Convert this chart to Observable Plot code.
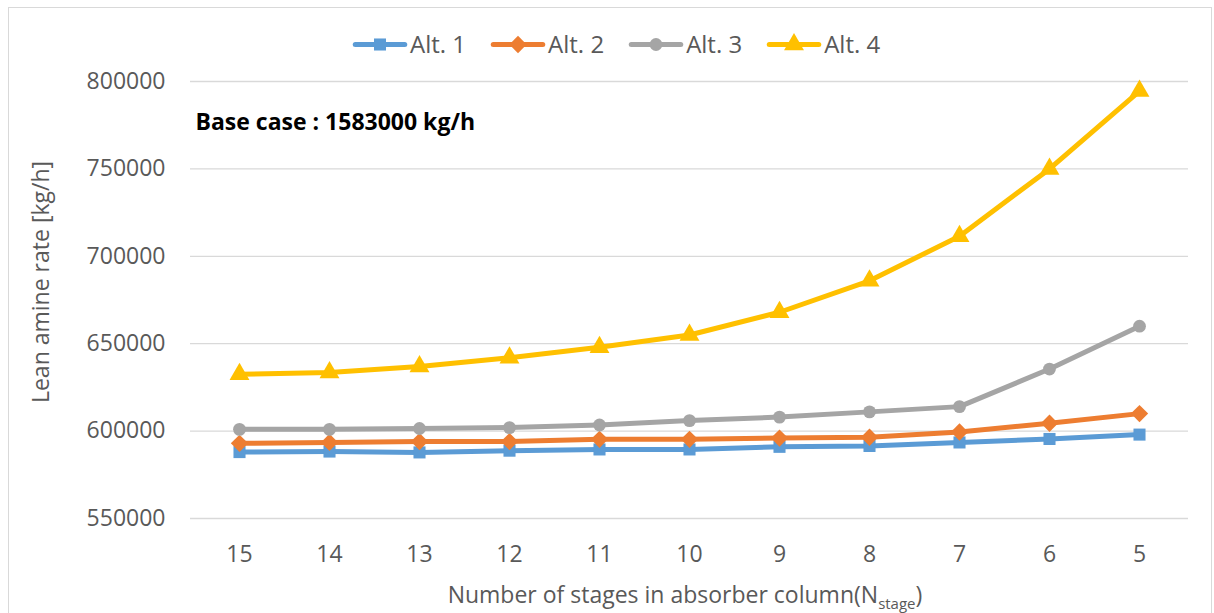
<!DOCTYPE html>
<html>
<head>
<meta charset="utf-8">
<script src="https://cdn.jsdelivr.net/npm/d3@7"></script>
<script src="https://cdn.jsdelivr.net/npm/@observablehq/plot@0.6"></script>
<style>
  body { margin: 0; background: #fff; font-family: "Open Sans", sans-serif; }
  #chart { position: relative; width: 1214px; height: 613px; overflow: hidden; }
  #frame { position: absolute; left: 8px; top: 7px; width: 1204px; height: 620px; border: 1px solid #d9d9d9; box-sizing: border-box; }
  #legend { position: absolute; top: 27px; left: 352px; display: flex; gap: 24px; font-size: 24px; color: #595959; }
  .item { display: flex; align-items: center; gap: 3px; }
  #ytitle { position: absolute; left: 40px; top: 282px; transform: translate(-50%, -50%) rotate(-90deg); white-space: nowrap; font-size: 23px; color: #595959; }
  #xtitle { position: absolute; left: 0; width: 1370px; text-align: center; top: 578px; font-size: 23px; color: #595959; white-space: nowrap; }
  #xtitle sub { font-size: 15px; vertical-align: -6px; line-height: 0; }
  svg { position: absolute; left: 0; top: 0; }
</style>
</head>
<body>
<div id="chart">
  <div id="frame"></div>
</div>
<script>
// Number of absorber stages (shown from most to fewest)
const stages = ["15", "14", "13", "12", "11", "10", "9", "8", "7", "6", "5"];

// Lean amine rate [kg/h] for each alternative
const alt1 = [588000, 588300, 587800, 588800, 589500, 589500, 591000, 591500, 593500, 595500, 598000];
const alt2 = [593000, 593500, 594000, 594000, 595300, 595300, 596000, 596500, 599500, 604500, 610000];
const alt3 = [601000, 601000, 601500, 602000, 603500, 606000, 608000, 611000, 614000, 635500, 660000];
const alt4 = [632500, 633500, 637000, 642000, 648000, 655000, 668000, 686000, 711500, 750000, 794500];

const seriesNames = ["Alt. 1", "Alt. 2", "Alt. 3", "Alt. 4"];
const seriesValues = [alt1, alt2, alt3, alt4];
const seriesColors = ["#5b9bd5", "#ed7d31", "#a5a5a5", "#ffc000"];
const seriesSymbols = ["square", "diamond2", "circle", "triangle"];
const seriesSizes = [6.8, 7.8, 6.4, 7.4];

const yTicks = [550000, 600000, 650000, 700000, 750000, 800000];
const baseCase = "Base case : 1583000 kg/h";

const rows = seriesNames.flatMap((name, i) =>
  stages.map((s, j) => ({ series: name, stage: s, rate: seriesValues[i][j] }))
);

const chart = document.getElementById("chart");

// Legend above the plot
const legend = document.createElement("div");
legend.id = "legend";
seriesNames.forEach((name, i) => {
  const item = document.createElement("div");
  item.className = "item";
  const sw = Plot.plot({
    width: 55, height: 22, margin: 0,
    x: { domain: [0, 1], axis: null },
    y: { domain: [0, 1], axis: null },
    marks: [
      Plot.lineY([0.5, 0.5], { x: [0.05, 0.95], stroke: seriesColors[i], strokeWidth: 5, strokeLinecap: "round" }),
      Plot.dot([0], { x: [0.5], y: [0.5], symbol: seriesSymbols[i], r: seriesSizes[i], fill: seriesColors[i] })
    ]
  });
  sw.style.position = "static";
  sw.style.overflow = "visible";
  item.appendChild(sw);
  const label = document.createElement("span");
  label.textContent = name;
  item.appendChild(label);
  legend.appendChild(item);
});
chart.appendChild(legend);

const plot = Plot.plot({
  width: 1214,
  height: 613,
  marginLeft: 190,
  marginRight: 26,
  marginTop: 81,
  marginBottom: 95,
  style: { fontFamily: "Open Sans, sans-serif", fontSize: "23px", color: "#595959", background: "transparent", overflow: "visible" },
  x: { type: "point", domain: stages, padding: 0.5, label: null, tickSize: 0, tickPadding: 27 },
  y: { domain: [550000, 800000], ticks: yTicks, tickFormat: d => String(d), label: null, tickSize: 0, tickPadding: 25 },
  marks: [
    Plot.gridY(yTicks, { stroke: "#d9d9d9", strokeOpacity: 1, strokeWidth: 1.3 }),
    Plot.line(rows, { x: "stage", y: "rate", z: "series", stroke: d => seriesColors[seriesNames.indexOf(d.series)], strokeWidth: 5, strokeLinejoin: "round", strokeLinecap: "round" }),
    ...seriesNames.map((name, i) =>
      Plot.dot(rows.filter(d => d.series === name), { x: "stage", y: "rate", symbol: seriesSymbols[i], fill: seriesColors[i], r: seriesSizes[i] })
    ),
    Plot.text([baseCase], { frameAnchor: "top-left", dx: 5, dy: 41, text: d => d, fontWeight: "bold", fontSize: 23, fill: "#000", textAnchor: "start", lineAnchor: "middle" })
  ]
});
chart.appendChild(plot);

const yt = document.createElement("div");
yt.id = "ytitle";
yt.textContent = "Lean amine rate [kg/h]";
chart.appendChild(yt);

const xt = document.createElement("div");
xt.id = "xtitle";
xt.innerHTML = "Number of stages in absorber column(N<sub>stage</sub>)";
chart.appendChild(xt);
</script>
</body>
</html>
